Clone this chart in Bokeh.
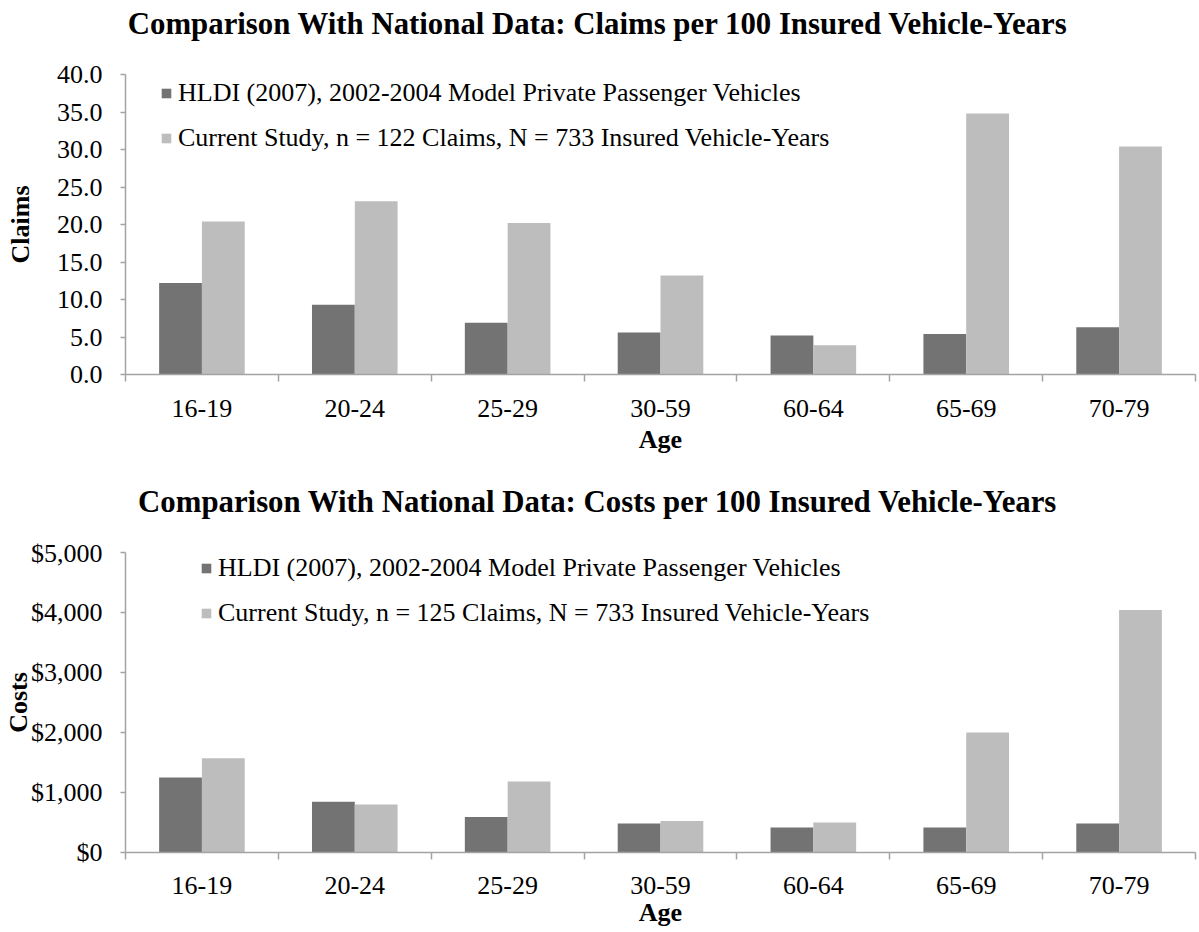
from bokeh.plotting import figure
from bokeh.layouts import column
from bokeh.models import (FixedTicker, NumeralTickFormatter, Range1d, ColumnDataSource,
                          Legend, LegendItem)
from bokeh.core.properties import value
from bokeh.transform import dodge
from bokeh.embed import file_html
from bokeh.resources import INLINE

ages = ["16-19", "20-24", "25-29", "30-59", "60-64", "65-69", "70-79"]
claims_hldi = [12.2, 9.3, 6.9, 5.6, 5.2, 5.4, 6.3]
claims_study = [20.4, 23.1, 20.2, 13.2, 3.9, 34.8, 30.4]
costs_hldi = [1250, 845, 590, 485, 415, 415, 485]
costs_study = [1570, 800, 1185, 525, 500, 2000, 4040]
claims_ticks = [0, 5, 10, 15, 20, 25, 30, 35, 40]
costs_ticks = [0, 1000, 2000, 3000, 4000, 5000]

title_claims = "Comparison With National Data: Claims per 100 Insured Vehicle-Years"
title_costs = "Comparison With National Data: Costs per 100 Insured Vehicle-Years"
label_hldi = "HLDI (2007), 2002-2004 Model Private Passenger Vehicles"
label_claims = "Current Study, n = 122 Claims, N = 733 Insured Vehicle-Years"
label_costs = "Current Study, n = 125 Claims, N = 733 Insured Vehicle-Years"

DARK = "#737373"
LIGHT = "#bdbdbd"
AX = "#a3a3a3"
FONT = "Liberation Serif"
W = 1199
LEFT = 124
RIGHT = 4


def title_fig(text, height, from_top):
    t = figure(width=W, height=height, output_backend="svg", toolbar_location=None,
               x_range=Range1d(LEFT, W - RIGHT), y_range=Range1d(0, height),
               x_axis_location=None, y_axis_location=None,
               min_border_left=LEFT, min_border_right=RIGHT, min_border_top=0,
               min_border_bottom=0)
    t.outline_line_color = None
    t.grid.visible = False
    t.text(x=[597], y=[height - from_top], text=[text], text_font=value(FONT),
           text_font_style="bold", text_font_size="30.8px", text_color="black",
           text_align="center", text_baseline="middle")
    return t


def make(hldi, study, study_label, ylabel, yticks, ymax, fmt, height, top, bottom,
         legend_loc, ylabel_standoff, lab_standoff, axlab_standoff):
    centers = [i + 0.5 for i in range(len(ages))]
    src = ColumnDataSource(dict(x=centers, hldi=hldi, study=study))
    p = figure(width=W, height=height, output_backend="svg", toolbar_location=None,
               x_range=Range1d(0, len(ages)), y_range=Range1d(0, ymax),
               min_border_left=LEFT, min_border_right=RIGHT, min_border_top=top,
               min_border_bottom=bottom)
    p.outline_line_color = None
    p.grid.visible = False
    p.background_fill_color = "white"

    r1 = p.vbar(x=dodge("x", -0.14, range=p.x_range), top="hldi", width=0.28, source=src,
                fill_color=DARK, line_color=None)
    r2 = p.vbar(x=dodge("x", 0.14, range=p.x_range), top="study", width=0.28, source=src,
                fill_color=LIGHT, line_color=None)

    xa = p.xaxis[0]
    xa.ticker = FixedTicker(ticks=centers, minor_ticks=list(range(len(ages) + 1)))
    xa.major_label_overrides = {c: a for c, a in zip(centers, ages)}
    xa.major_tick_line_color = None
    xa.major_tick_out = 0
    xa.major_tick_in = 0
    xa.minor_tick_out = 7
    xa.minor_tick_in = 0
    xa.minor_tick_line_color = AX
    xa.minor_tick_line_width = 1.5
    xa.axis_line_color = AX
    xa.axis_line_width = 1.5
    xa.major_label_text_font = FONT
    xa.major_label_text_font_size = "26px"
    xa.major_label_text_color = "black"
    xa.major_label_standoff = lab_standoff
    xa.axis_label = "Age"
    xa.axis_label_text_font = FONT
    xa.axis_label_text_font_style = "bold"
    xa.axis_label_text_font_size = "26px"
    xa.axis_label_text_color = "black"
    xa.axis_label_standoff = axlab_standoff

    ya = p.yaxis[0]
    ya.ticker = FixedTicker(ticks=yticks)
    ya.formatter = NumeralTickFormatter(format=fmt)
    ya.major_tick_out = 5
    ya.major_tick_in = 0
    ya.minor_tick_line_color = None
    ya.major_tick_line_color = AX
    ya.major_tick_line_width = 1.5
    ya.axis_line_color = AX
    ya.axis_line_width = 1.5
    ya.major_label_text_font = FONT
    ya.major_label_text_font_size = "26px"
    ya.major_label_text_color = "black"
    ya.major_label_standoff = 18
    ya.axis_label = ylabel
    ya.axis_label_text_font = FONT
    ya.axis_label_text_font_style = "bold"
    ya.axis_label_text_font_size = "26px"
    ya.axis_label_text_color = "black"
    ya.axis_label_standoff = ylabel_standoff

    legend = Legend(items=[LegendItem(label=label_hldi, renderers=[r1]),
                           LegendItem(label=study_label, renderers=[r2])],
                    location=legend_loc, orientation="vertical",
                    glyph_width=12, glyph_height=12, label_text_font=FONT,
                    label_text_font_size="26px", label_text_color="black",
                    label_height=30, spacing=15,
                    label_standoff=6, padding=0, margin=0,
                    border_line_color=None, background_fill_alpha=0)
    p.add_layout(legend, "center")
    return p


t1 = title_fig(title_claims, 60, 23)
p1 = make(claims_hldi, claims_study, label_claims, "Claims", claims_ticks, 40,
          "0.0", 398, 14, 84, (35, 221), 19, 18, 5)
t2 = title_fig(title_costs, 80, 43)
p2 = make(costs_hldi, costs_study, label_costs, "Costs", costs_ticks, 5000,
          "$0,0", 392, 14, 78, (75, 224), -5, 17, 1)

layout = column(t1, p1, t2, p2, spacing=0)
open("out.html", "w").write(file_html(layout, INLINE))
